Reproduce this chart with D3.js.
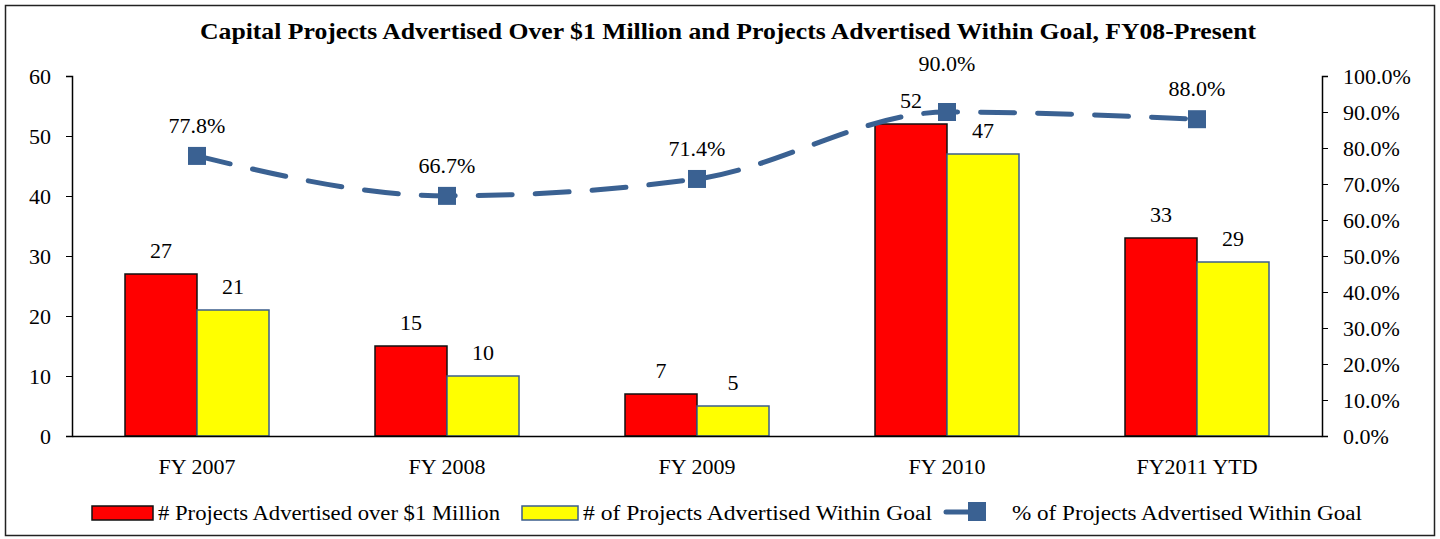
<!DOCTYPE html>
<html>
<head>
<meta charset="utf-8">
<script src="https://cdn.jsdelivr.net/npm/d3@7"></script>
<style>
  body { margin: 0; background: #fff; }
  svg text { font-family: "Liberation Serif", "Times New Roman", serif; fill: #000; }
</style>
</head>
<body>
<svg id="chart"></svg>
<script>
const width = 1440;
const height = 539;

// data
const years = ["FY 2007", "FY 2008", "FY 2009", "FY 2010", "FY2011 YTD"];
const over1M = [27, 15, 7, 52, 33];
const withinGoal = [21, 10, 5, 47, 29];
const pctWithin = [77.8, 66.7, 71.4, 90.0, 88.0];
const leftTicks = [0, 10, 20, 30, 40, 50, 60];
const rightTicks = [0, 10, 20, 30, 40, 50, 60, 70, 80, 90, 100];

const margin = { left: 72, right: 118, top: 76, bottom: 103 };
const lineColor = "#3A6192";
const fs = 22;

const svg = d3.select("#chart")
    .attr("width", width)
    .attr("height", height);

// outer frame
svg.append("rect")
    .attr("x", 5.5).attr("y", 5.5)
    .attr("width", 1429).attr("height", 530)
    .attr("fill", "#fff")
    .attr("stroke", "#222")
    .attr("stroke-width", 1.5);

svg.append("text")
    .attr("x", 200).attr("y", 39)
    .attr("font-size", 23)
    .attr("font-weight", "bold")
    .attr("textLength", 1056).attr("lengthAdjust", "spacingAndGlyphs")
    .text("Capital Projects Advertised Over $1 Million and Projects Advertised Within Goal, FY08-Present");

const x = d3.scaleBand()
    .domain(years)
    .range([margin.left, width - margin.right])
    .paddingInner(0.424)
    .paddingOuter(0.212);

const y = d3.scaleLinear().domain([0, 60]).range([height - margin.bottom, margin.top]);
const y2 = d3.scaleLinear().domain([0, 100]).range([height - margin.bottom, margin.top]);

const bw = x.bandwidth() / 2;

// bars: over $1M
svg.append("g").selectAll("rect")
    .data(over1M)
    .join("rect")
    .attr("x", (d, i) => x(years[i]))
    .attr("y", d => y(d))
    .attr("width", bw)
    .attr("height", d => y(0) - y(d))
    .attr("fill", "#FF0000")
    .attr("stroke", "#111")
    .attr("stroke-width", 1.5);

// bars: within goal
svg.append("g").selectAll("rect")
    .data(withinGoal)
    .join("rect")
    .attr("x", (d, i) => x(years[i]) + bw)
    .attr("y", d => y(d))
    .attr("width", bw)
    .attr("height", d => y(0) - y(d))
    .attr("fill", "#FFFF00")
    .attr("stroke", "#3B5E8C")
    .attr("stroke-width", 1.5);

// bar labels
svg.append("g").selectAll("text")
    .data(over1M)
    .join("text")
    .attr("x", (d, i) => x(years[i]) + bw / 2)
    .attr("y", d => y(d) - 16)
    .attr("text-anchor", "middle")
    .attr("font-size", fs)
    .text(d => d);

svg.append("g").selectAll("text")
    .data(withinGoal)
    .join("text")
    .attr("x", (d, i) => x(years[i]) + bw * 1.5)
    .attr("y", d => y(d) - 16)
    .attr("text-anchor", "middle")
    .attr("font-size", fs)
    .text(d => d);

// axes
const leftAxis = svg.append("g")
    .attr("transform", `translate(${margin.left},0)`)
    .call(d3.axisLeft(y).tickValues(leftTicks).tickSize(6).tickPadding(15));
leftAxis.selectAll("text").attr("font-size", fs).attr("font-family", "Liberation Serif");
leftAxis.select(".domain").attr("stroke", "#000").attr("stroke-width", 1.5);

const rightAxis = svg.append("g")
    .attr("transform", `translate(${width - margin.right},0)`)
    .call(d3.axisRight(y2).tickValues(rightTicks).tickSize(6).tickPadding(15)
        .tickFormat(d => d.toFixed(1) + "%"));
rightAxis.selectAll("text").attr("font-size", fs).attr("font-family", "Liberation Serif");
rightAxis.select(".domain").attr("stroke", "#000").attr("stroke-width", 1.5);

const bottomAxis = svg.append("g")
    .attr("transform", `translate(0,${y(0)})`)
    .call(d3.axisBottom(x).tickSize(0).tickPadding(22));
bottomAxis.selectAll("text").attr("font-size", fs).attr("font-family", "Liberation Serif");
bottomAxis.select(".domain").attr("stroke", "#000").attr("stroke-width", 1.5);

// percentage line
const cx = (d, i) => x(years[i]) + x.bandwidth() / 2;
const line = d3.line()
    .x(cx)
    .y(d => y2(d))
    .curve(d3.curveMonotoneX);

svg.append("path")
    .datum(pctWithin)
    .attr("d", line)
    .attr("fill", "none")
    .attr("stroke", lineColor)
    .attr("stroke-width", 5)
    .attr("stroke-linecap", "round")
    .attr("stroke-dasharray", "34,23");

svg.append("g").selectAll("rect")
    .data(pctWithin)
    .join("rect")
    .attr("x", (d, i) => cx(d, i) - 9)
    .attr("y", d => y2(d) - 9)
    .attr("width", 18)
    .attr("height", 18)
    .attr("fill", lineColor);

// the FY 2010 label sits higher so it clears the bar label below it
svg.append("g").selectAll("text")
    .data(pctWithin)
    .join("text")
    .attr("x", cx)
    .attr("y", (d, i) => y2(d) - (i === 3 ? 41 : 23))
    .attr("text-anchor", "middle")
    .attr("font-size", fs)
    .text(d => d.toFixed(1) + "%");

// legend
const legend = svg.append("g").attr("font-size", 20);
legend.append("rect")
    .attr("x", 92).attr("y", 506).attr("width", 61).attr("height", 14)
    .attr("fill", "#FF0000").attr("stroke", "#111").attr("stroke-width", 1.5);
legend.append("text")
    .attr("x", 158).attr("y", 520)
    .attr("textLength", 342).attr("lengthAdjust", "spacingAndGlyphs")
    .text("# Projects Advertised over $1 Million");

legend.append("rect")
    .attr("x", 522).attr("y", 506).attr("width", 56).attr("height", 14)
    .attr("fill", "#FFFF00").attr("stroke", "#3B5E8C").attr("stroke-width", 1.5);
legend.append("text")
    .attr("x", 583).attr("y", 520)
    .attr("textLength", 349).attr("lengthAdjust", "spacingAndGlyphs")
    .text("# of Projects Advertised Within Goal");

legend.append("line")
    .attr("x1", 946).attr("x2", 980).attr("y1", 512).attr("y2", 512)
    .attr("stroke", lineColor).attr("stroke-width", 5).attr("stroke-linecap", "round");
legend.append("rect")
    .attr("x", 968).attr("y", 502).attr("width", 18).attr("height", 19)
    .attr("fill", lineColor);
legend.append("text")
    .attr("x", 1012).attr("y", 520)
    .attr("textLength", 350).attr("lengthAdjust", "spacingAndGlyphs")
    .text("% of Projects Advertised Within Goal");
</script>
</body>
</html>
